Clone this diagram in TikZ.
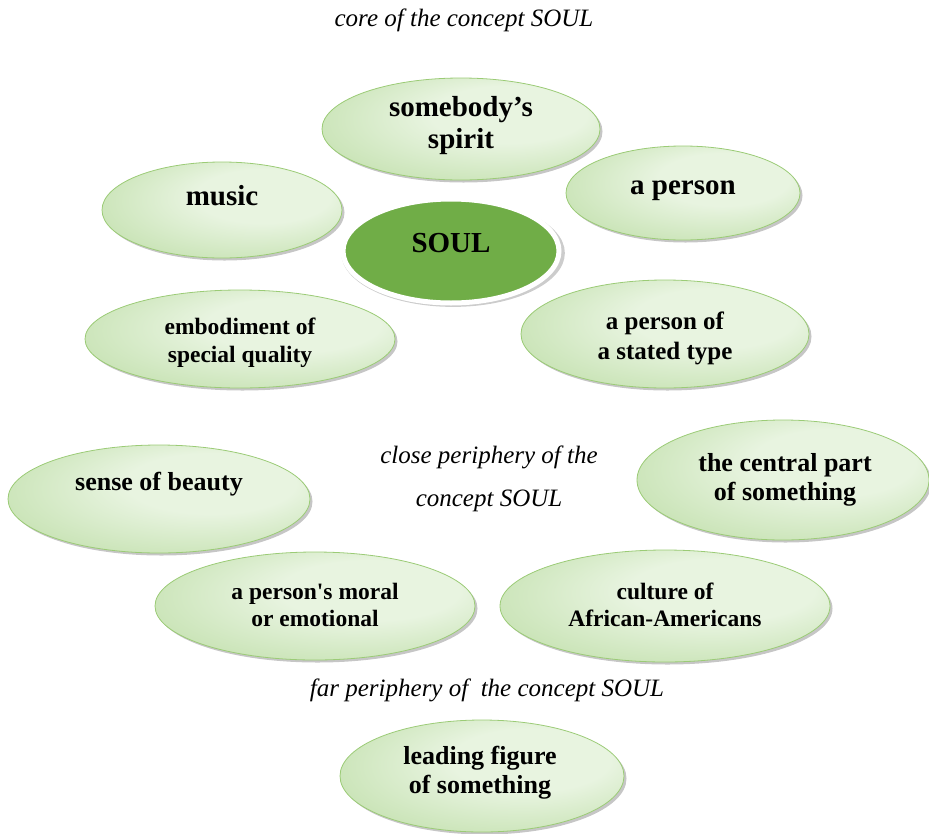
\documentclass[tikz,border=0pt]{standalone}
\usepackage{fontspec}
\setmainfont{Liberation Serif}
\newfontfamily\plainserif{Liberation Serif}
\usetikzlibrary{shapes.geometric,shadows}
\definecolor{lightg}{RGB}{232,244,224}
\definecolor{darkg}{RGB}{170,211,140}
\definecolor{edgeg}{RGB}{155,203,118}
\definecolor{soulg}{RGB}{112,173,71}
\pgfdeclareradialshading{petalshade}{\pgfpoint{12bp}{10bp}}{color(0bp)=(lightg); color(14bp)=(lightg); color(50bp)=(darkg)}
\tikzset{
  petal/.style={ellipse, draw=edgeg, line width=0.8pt, shading=petalshade,
    drop shadow={shadow xshift=2.5pt, shadow yshift=-2.5pt, fill=black!50, opacity=0.45},
    inner sep=0pt},
  lbl/.style 2 args={align=center, inner sep=0pt, text=black, font=\bfseries\fontsize{#1}{#2}\selectfont},
  captext/.style={inner sep=0pt, text=black, font=\itshape\fontsize{25}{28}\selectfont}
}
\begin{document}
\begin{tikzpicture}[x=1pt,y=-1pt]
\useasboundingbox (0,0) rectangle (929,833);
% captions
\node[captext] (capcore) at (464,20) {core of the concept SOUL};
\node[captext] (capclose1) at (489,457) {close periphery of the};
\node[captext] (capclose2) at (489,501) {concept SOUL};
\node[captext] (capfar) at (487,690) {far periphery of\ \ the concept SOUL};
% ellipses
\node[petal, minimum width=278pt, minimum height=102pt] (spirit) at (461,129) {};
\node[petal, minimum width=240pt, minimum height=96pt] (music) at (222,210) {};
\node[petal, minimum width=234pt, minimum height=94pt] (person) at (683,193) {};
\node[ellipse, fill=soulg, draw=white, line width=5pt, minimum width=216pt, minimum height=104pt,
  drop shadow={shadow xshift=2pt, shadow yshift=-2pt, shadow scale=1.035, fill=black!40, opacity=0.5}] (soul) at (451,251) {};
\node[petal, minimum width=310pt, minimum height=98pt] (embod) at (240,339) {};
\node[petal, minimum width=288pt, minimum height=108pt] (stated) at (665,334) {};
\node[petal, minimum width=302pt, minimum height=108pt] (beauty) at (159,499) {};
\node[petal, minimum width=292pt, minimum height=120pt] (central) at (783,480) {};
\node[petal, minimum width=320pt, minimum height=108pt] (moral) at (315,606) {};
\node[petal, minimum width=330pt, minimum height=112pt] (culture) at (665,606) {};
\node[petal, minimum width=284pt, minimum height=112pt] (leading) at (482,776) {};
% labels
\node[lbl={29}{32}] (tspirit) at (461,126) {somebody’s\\spirit};
\node[lbl={29}{32}] (tmusic) at (222,196) {music};
\node[lbl={29}{32}] (tperson) at (683,191) {a person};
\node[lbl={29}{32}] (tsoul) at (451,243) {SOUL};
\node[lbl={23.5}{28}] (tembod) at (240,343) {embodiment of\\special quality};
\node[lbl={25}{30}] (tstated) at (665,338) {a person of\\a stated type};
\node[lbl={26}{29}] (tbeauty) at (159,484) {sense of beauty};
\node[lbl={26}{29}] (tcentral) at (785,480) {the central part\\of something};
\node[lbl={23.5}{27}] (tmoral) at (315,605) {a person{\plainserif\bfseries '}s moral\\or emotional};
\node[lbl={23.5}{27}] (tculture) at (665,605) {culture of\\African-Americans};
\node[lbl={26}{29}] (tleading) at (480,773) {leading figure\\of something};
\end{tikzpicture}
\end{document}
